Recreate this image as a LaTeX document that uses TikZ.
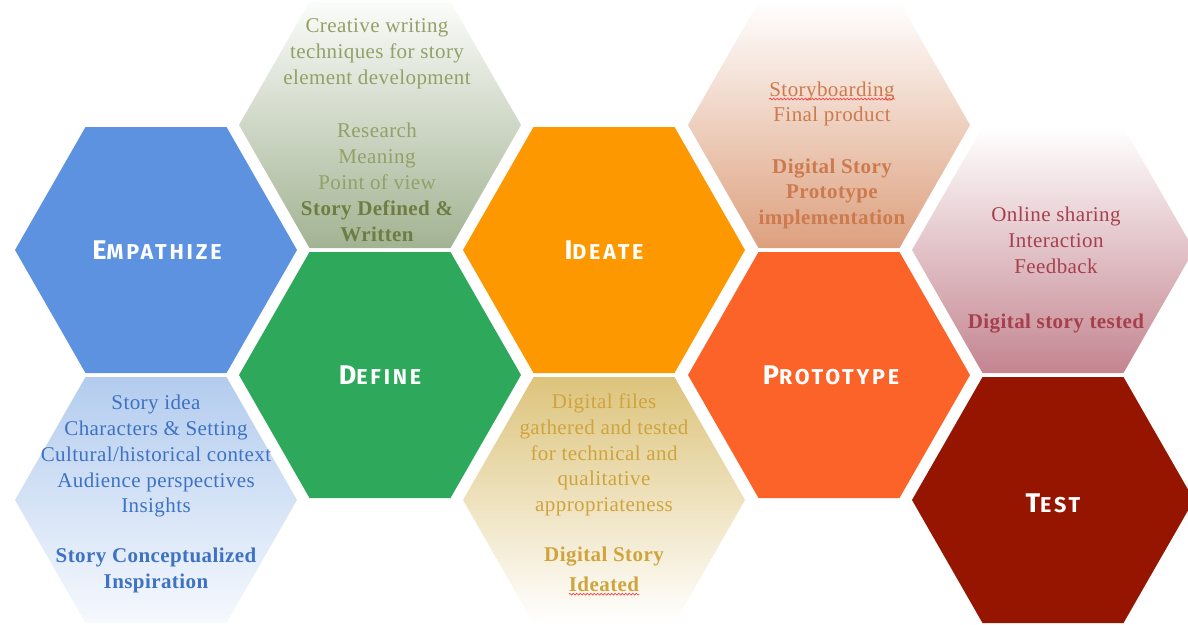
\documentclass[tikz,border=0pt]{standalone}
\usepackage{fontspec}
\setmainfont{Liberation Serif}
\newfontfamily\labfont[LetterSpace=13]{Fira Sans}
\newfontfamily\bodyfont[LetterSpace=2]{Liberation Serif}
\usetikzlibrary{decorations.pathmorphing}
\definecolor{cEmp}{HTML}{5D92E0}
\definecolor{cDef}{HTML}{2EA85A}
\definecolor{cIde}{HTML}{FD9801}
\definecolor{cPro}{HTML}{FC6328}
\definecolor{cTes}{HTML}{961500}
\definecolor{tEmp}{HTML}{3D72C4}
\definecolor{tDef}{HTML}{93A068}
\definecolor{tDefB}{HTML}{6E7E42}
\definecolor{tIde}{HTML}{D0A43C}
\definecolor{tPro}{HTML}{CC7A4E}
\definecolor{tTes}{HTML}{A6404E}
\definecolor{gEmpA}{HTML}{B3CCEE}
\definecolor{gEmpB}{HTML}{F6F9FE}
\definecolor{gDefA}{HTML}{FBFCFA}
\definecolor{gDefB}{HTML}{A2B392}
\definecolor{gIdeA}{HTML}{DDC47C}
\definecolor{gIdeB}{HTML}{FFFFFF}
\definecolor{gProA}{HTML}{FFFFFF}
\definecolor{gProB}{HTML}{DDA07E}
\definecolor{gTesA}{HTML}{FFFFFF}
\definecolor{gTesB}{HTML}{C48590}
\tikzset{
  hex/.pic={\path[pic actions] (-141,0) -- (-70.5,-123) -- (70.5,-123) -- (141,0) -- (70.5,123) -- (-70.5,123) -- cycle;},
  lab/.style={text=white, inner sep=0pt, font=\labfont\bfseries},
  body/.style={align=center, inner sep=0pt, font=\bodyfont\fontsize{21}{25.8}\selectfont},
  spell/.style={draw=red!80, line width=0.6pt, decorate, decoration={snake, amplitude=0.9pt, segment length=3.5pt}},
}
\newcommand\bigS[1]{{\fontsize{27}{27}\selectfont #1}}
\newcommand\smS[1]{{\fontsize{21.5}{21.5}\selectfont #1}}
\begin{document}
\begin{tikzpicture}[x=1pt,y=-1pt]
\useasboundingbox (0,0) rectangle (1188,624);
\fill[white] (0,0) rectangle (1188,624);
% light hexagons
\pic[top color=gEmpA, bottom color=gEmpB] at (156,500) {hex};
\pic[top color=gDefA, bottom color=gDefB] at (380,125) {hex};
\pic[top color=gIdeA, bottom color=gIdeB] at (604,500) {hex};
\pic[top color=gProA, bottom color=gProB] at (829,125) {hex};
\pic[top color=gTesA, bottom color=gTesB] at (1053,250) {hex};
% main hexagons
\pic[fill=cEmp] at (156,250) {hex};
\pic[fill=cDef] at (380,375) {hex};
\pic[fill=cIde] at (604,250) {hex};
\pic[fill=cPro] at (829,375) {hex};
\pic[fill=cTes] at (1053,500) {hex};
% labels
\node[lab] (emp) at (157,250) {\bigS{E}\smS{MPATHIZE}};
\node[lab] (def) at (380,375) {\bigS{D}\smS{EFINE}};
\node[lab] (ide) at (604,250) {\bigS{I}\smS{DEATE}};
\node[lab] (pro) at (831,375) {\bigS{P}\smS{ROTOTYPE}};
\node[lab] (tes) at (1053,503) {\bigS{T}\smS{EST}};
% texts
\node[body, text=tEmp] (empt) at (156,494) {Story idea\\ Characters \& Setting\\ Cultural/historical context\\ Audience perspectives\\ Insights\\[24pt] \bfseries Story Conceptualized\\ \bfseries Inspiration};
\node[body, text=tDef] (deft) at (377,130) {Creative writing\\ techniques for story\\ element development\\[28pt] Research\\ Meaning\\ Point of view\\ \textcolor{tDefB}{\bfseries Story Defined \&}\\ \textcolor{tDefB}{\bfseries Written}};
\node[body, text=tIde] (idet) at (604,480) {Digital files\\ gathered and tested\\ for technical and\\ qualitative\\ appropriateness\\[24pt] \bfseries Digital Story};
\node[body, text=tIde, font=\bodyfont\bfseries\fontsize{21}{25.8}\selectfont] (ided) at (604,584) {Ideated};
\node[body, text=tPro] (sb) at (832,91) {Storyboarding};
\node[body, text=tPro] (prot) at (832,168) {Final product\\[26pt] \bfseries Digital Story\\ \bfseries Prototype\\ \bfseries implementation};
\node[body, text=tTes] (test) at (1056,270) {Online sharing\\ Interaction\\ Feedback\\[29pt] \bfseries Digital story tested};
% spell-check marks
\draw[spell] ([yshift=-3pt]sb.base west) -- ([yshift=-3pt]sb.base east);
\draw[spell] ([yshift=-3pt]ided.base west) -- ([yshift=-3pt]ided.base east);
\end{tikzpicture}
\end{document}
